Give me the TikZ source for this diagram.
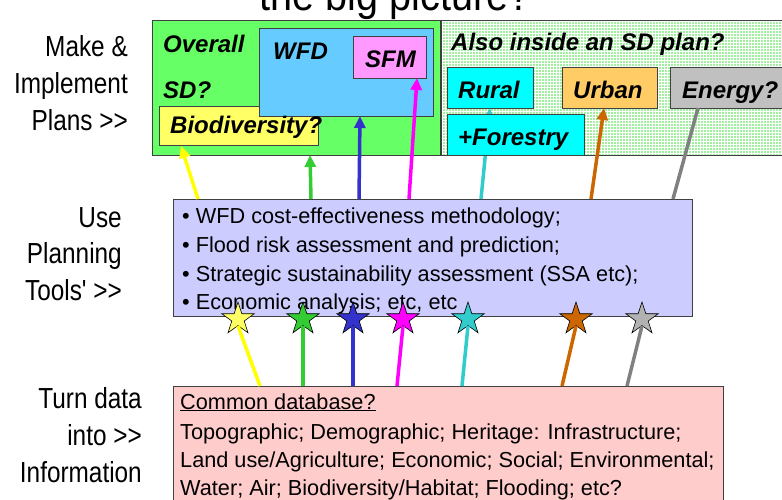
\documentclass[tikz,border=0pt]{standalone}
\usepackage{fontspec}
\setmainfont{Liberation Sans}
\newfontfamily\narrowsans[FakeStretch=0.84]{Liberation Sans}
\newfontfamily\headsans[FakeStretch=0.9]{Liberation Sans}
\usetikzlibrary{shapes.geometric,arrows.meta}

\definecolor{sdgreen}{HTML}{66FF66}
\definecolor{plangreen}{HTML}{A0F0A0}
\definecolor{wfdblue}{HTML}{66CCFF}
\definecolor{sfmpink}{HTML}{FF99FF}
\definecolor{bioyellow}{HTML}{FFFF66}
\definecolor{ruralcyan}{HTML}{00FFFF}
\definecolor{urbanorange}{HTML}{FFCC66}
\definecolor{energygray}{HTML}{C0C0C0}
\definecolor{toolsblue}{HTML}{CCCCFF}
\definecolor{datapink}{HTML}{FFCCCC}
\definecolor{lyellow}{HTML}{FFFF00}
\definecolor{lgreen}{HTML}{33CC33}
\definecolor{lblue}{HTML}{3333CC}
\definecolor{lmagenta}{HTML}{FF00FF}
\definecolor{lteal}{HTML}{33CCCC}
\definecolor{lorange}{HTML}{CC6600}
\definecolor{lgray}{HTML}{808080}
\definecolor{sgray}{HTML}{B2B2B2}

\begin{document}
\begin{tikzpicture}[x=1pt,y=-1pt,
  box/.style={draw=black!75, line width=0.8pt, anchor=north west,
    inner sep=0pt, outer sep=0pt},
  boxlabel/.style={anchor=base west, inner sep=0pt,
    font=\fontsize{24}{24}\selectfont\bfseries\itshape},
  stage/.style={anchor=base east, inner sep=0pt,
    font=\narrowsans\fontsize{29}{29}\selectfont},
  item/.style={anchor=base west, inner sep=0pt,
    font=\fontsize{21.7}{21.7}\selectfont},
  link/.style={line width=3.5pt},
  arrowlink/.style={link, -{Triangle[length=12pt,width=11pt]}},
  starpt/.style={star, star points=5, star point ratio=2.6,
    minimum size=34pt, inner sep=0pt, draw=black, line width=0.6pt},
]
\useasboundingbox (0,0) rectangle (782,499);
\clip (0,0) rectangle (782,499);

% heading, mostly above the page edge
\node[anchor=base, inner sep=0pt, font=\headsans\fontsize{44}{44}\selectfont]
  (title) at (395,10.5) {the big picture?};

% ---- plans row ----
\node[box, fill=sdgreen, minimum width=288pt, minimum height=135pt]
  (sd) at (152,20) {};
\node[box, fill=plangreen, minimum width=349pt, minimum height=135pt]
  (plan) at (441,20) {};
\begin{scope}
  \clip (441.5,20.5) rectangle (790,154.5);
  \foreach \gx in {442,445,...,790} \draw[white, line width=0.9pt] (\gx,20) -- (\gx,155);
  \foreach \gy in {21,24,...,155} \draw[white, line width=0.9pt] (441,\gy) -- (790,\gy);
\end{scope}
\draw[black!75, line width=0.8pt] (plan.north west) rectangle (plan.south east);

\node[box, fill=bioyellow, minimum width=159pt, minimum height=39pt]
  (bio) at (159,106) {};
\node[box, fill=wfdblue, minimum width=174pt, minimum height=88pt]
  (wfd) at (259,28) {};
\node[box, fill=sfmpink, minimum width=73pt, minimum height=42pt]
  (sfm) at (353,36) {};
\node[box, fill=ruralcyan, minimum width=86pt, minimum height=41pt]
  (rural) at (447,67) {};
\node[box, fill=urbanorange, minimum width=95pt, minimum height=41pt]
  (urban) at (562,67) {};
\node[box, fill=energygray, minimum width=120pt, minimum height=41pt]
  (energy) at (670,67) {};

\node[boxlabel] (overall) at (163,52) {Overall};
\node[boxlabel] (sdq) at (163,98) {SD?};
\node[boxlabel] (biot) at (170,133) {Biodiversity?};
\node[boxlabel] (wfdt) at (273,59) {WFD};
\node[boxlabel] (sfmt) at (365,67) {SFM};
\node[boxlabel] (also) at (451,50) {Also inside an SD plan?};
\node[boxlabel] (ruralt) at (458,98) {Rural};
\node[boxlabel] (urbant) at (573,98) {Urban};
\node[boxlabel] (energyt) at (682,98) {Energy?};

% ---- tools row ----
\node[box, fill=toolsblue, minimum width=519pt, minimum height=117pt]
  (tools) at (173,199) {};
\node[item] (t1) at (182,223) {• WFD cost-effectiveness methodology;};
\node[item] (t2) at (182,252) {• Flood risk assessment and prediction;};
\node[item] (t3) at (182,281) {• Strategic sustainability assessment (SSA etc);};
\node[item] (t4) at (182,309) {• Economic analysis; etc, etc};

% ---- data row ----
\node[box, fill=datapink, minimum width=550pt, minimum height=130pt]
  (data) at (173,386) {};
\node[item] (d0) at (180,409) {\underline{Common database?}};
\node[item] (d1) at (180,439) {Topographic; Demographic; Heritage: Infrastructure;};
\node[item] (d2) at (180,467) {Land use/Agriculture; Economic; Social; Environmental;};
\node[item] (d3) at (180,495) {Water; Air; Biodiversity/Habitat; Flooding; etc?};

% ---- stage labels ----
\node[stage] (s1a) at (128,56) {Make \&};
\node[stage] (s1b) at (128,93) {Implement};
\node[stage] (s1c) at (128,130) {Plans >>};
\node[stage] (s2a) at (122,227) {Use};
\node[stage] (s2b) at (122,263) {Planning};
\node[stage] (s2c) at (122,300) {Tools' >>};
\node[stage] (s3a) at (142,408) {Turn data};
\node[stage] (s3b) at (142,445) {into >>};
\node[stage] (s3c) at (142,482) {Information};

% ---- link end points ----
\coordinate (uy) at (198,199);  \coordinate (ty) at (181,146);
\coordinate (ug) at (311,199);  \coordinate (tg) at (310,155);
\coordinate (ub) at (359,199);  \coordinate (tb) at (360,116);
\coordinate (um) at (409,199);  \coordinate (tm) at (417,78);
\coordinate (uc) at (481,199);  \coordinate (tc) at (490,108);
\coordinate (uo) at (591,199);  \coordinate (to) at (604,108);
\coordinate (ua) at (673,199);  \coordinate (ta) at (698,108);

\draw[arrowlink, lyellow] (uy) -- (ty);
\draw[arrowlink, lgreen] (ug) -- (tg);
\draw[arrowlink, lblue] (ub) -- (tb);
\draw[arrowlink, lmagenta] (um) -- (tm);
\draw[arrowlink, lteal] (uc) -- (tc);
\draw[arrowlink, lorange] (uo) -- (to);
\draw[link, lgray] (ua) -- (ta);

% forestry box sits over the rural link
\node[box, fill=ruralcyan, minimum width=137pt, minimum height=41pt]
  (forestry) at (447,114) {};
\node[boxlabel] (forestryt) at (458,145) {+Forestry};

% ---- links from the database up to the tools ----
\coordinate (dy) at (260,386);
\coordinate (dg) at (303,386);
\coordinate (db) at (353,386);
\coordinate (dm) at (397,386);
\coordinate (dc) at (462,386);
\coordinate (do) at (562,386);
\coordinate (da) at (627,386);

\node[starpt, fill=bioyellow] (sy) at (238,319) {};
\node[starpt, fill=lgreen] (sg) at (303,319) {};
\node[starpt, fill=lblue] (sb) at (353,319) {};
\node[starpt, fill=lmagenta] (sm) at (403,319) {};
\node[starpt, fill=lteal] (sc) at (468,319) {};
\node[starpt, fill=lorange] (so) at (576,319) {};
\node[starpt, fill=sgray] (sa) at (642,319) {};

\draw[link, lyellow] (dy) -- (sy.south);
\draw[link, lgreen] (dg) -- (sg.south);
\draw[link, lblue] (db) -- (sb.south);
\draw[link, lmagenta] (dm) -- (sm.south);
\draw[link, lteal] (dc) -- (sc.south);
\draw[link, lorange] (do) -- (so.south);
\draw[link, lgray] (da) -- (sa.south);
\end{tikzpicture}
\end{document}
